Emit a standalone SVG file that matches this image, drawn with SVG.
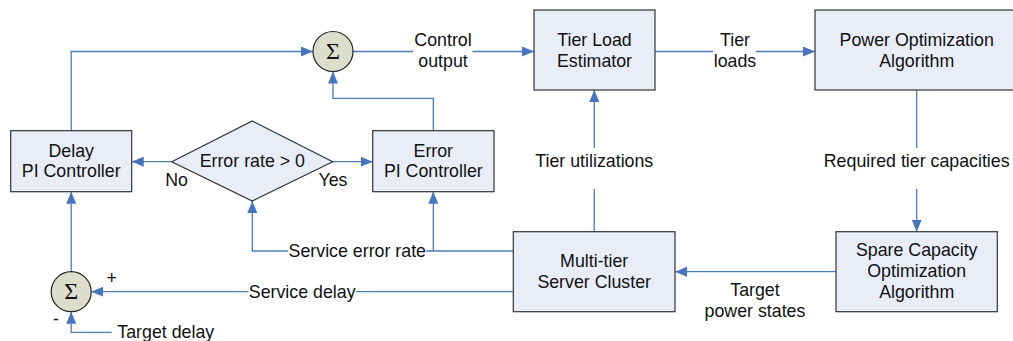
<svg xmlns="http://www.w3.org/2000/svg" width="1013" height="341" viewBox="0 0 1013 341">
  <style>
    .box { fill: #e8edf7; stroke: #333333; stroke-width: 1.2; }
    .sum { fill: #dcdecb; stroke: #222222; stroke-width: 1.2; }
    .wire { fill: none; stroke: #4a7ebb; stroke-width: 1.3; }
    .arr { marker-end: url(#head); }
    text { font-family: "Liberation Sans", Arial, sans-serif; font-size: 17.8px; fill: #111111; }
    .c { text-anchor: middle; }
    .sigma { font-family: "Liberation Serif", "Times New Roman", serif; font-size: 24px; text-anchor: middle; }
    .gap { fill: #ffffff; }
  </style>
  <defs>
    <marker id="head" markerUnits="userSpaceOnUse" markerWidth="12" markerHeight="10" refX="12" refY="5" orient="auto">
      <path d="M0,0 L12,5 L0,10 Z" fill="#4575c0"/>
    </marker>
  </defs>
  <rect width="1013" height="341" fill="#ffffff"/>

  <!-- connectors -->
  <g id="connectors">
    <path class="wire arr" d="M71.2,130.7 V51.5 H313"/>
    <path class="wire arr" d="M353,51.5 H534"/>
    <path class="wire arr" d="M655,51.5 H815"/>
    <path class="wire arr" d="M916.7,90 V231.7"/>
    <path class="wire arr" d="M836,271.7 H675"/>
    <path class="wire arr" d="M594.3,231.7 V90"/>
    <path class="wire arr" d="M433.3,130.7 V98.3 H333 V71.5"/>
    <path class="wire arr" d="M171.7,161.7 H131.7"/>
    <path class="wire arr" d="M332.7,161.7 H372.7"/>
    <path class="wire arr" d="M513.3,251 H252.3 V201"/>
    <path class="wire arr" d="M433.3,251 V191.7"/>
    <path class="wire arr" d="M513.3,291.7 H91.2"/>
    <path class="wire arr" d="M71.2,271.7 V191.7"/>
    <path class="wire arr" d="M111.7,332.3 H71.2 V311.7"/>

    <!-- label backgrounds breaking the wires -->
    <rect class="gap" x="413" y="30" width="59.5" height="42"/>
    <rect class="gap" x="713" y="30" width="43" height="42"/>
    <rect class="gap" x="560" y="148" width="70" height="41"/>
    <rect class="gap" x="880" y="148" width="73" height="41"/>
    <rect class="gap" x="288.3" y="240" width="138" height="22"/>
    <rect class="gap" x="248.3" y="281" width="107.7" height="22"/>

    <text class="c" x="443" y="45.7">Control</text>
    <text class="c" x="443" y="66.7">output</text>
    <text class="c" x="735" y="45.7">Tier</text>
    <text class="c" x="735" y="66.7">loads</text>
    <text class="c" x="594.3" y="166.7">Tier utilizations</text>
    <text class="c" x="916.7" y="166.7">Required tier capacities</text>
    <text class="c" x="755" y="295.5">Target</text>
    <text class="c" x="755" y="316.5">power states</text>
    <text class="c" x="357.3" y="256.5">Service error rate</text>
    <text class="c" x="302.2" y="297.5">Service delay</text>
    <text x="117.3" y="337.5">Target delay</text>
    <text class="c" x="176.5" y="185.7">No</text>
    <text class="c" x="333" y="185.7">Yes</text>
    <text class="c" x="111.7" y="283.5">+</text>
    <text class="c" x="56" y="325">-</text>
  </g>

  <!-- nodes -->
  <g id="sum-top">
    <circle class="sum" cx="333" cy="51.5" r="20"/>
    <text class="sigma" x="333" y="58.5">Σ</text>
  </g>
  <g id="sum-bottom">
    <circle class="sum" cx="71.2" cy="291.7" r="20"/>
    <text class="sigma" x="71.2" y="298.7">Σ</text>
  </g>
  <g id="delay-pi">
    <rect class="box" x="10.7" y="130.7" width="121" height="61"/>
    <text class="c" x="71.2" y="156.7">Delay</text>
    <text class="c" x="71.2" y="177.3">PI Controller</text>
  </g>
  <g id="error-check">
    <polygon class="box" points="171.7,161.7 252.3,121 332.7,161.7 252.3,201"/>
    <text class="c" x="252.3" y="167">Error rate &gt; 0</text>
  </g>
  <g id="error-pi">
    <rect class="box" x="372.7" y="130.7" width="121.3" height="61"/>
    <text class="c" x="433.3" y="156.7">Error</text>
    <text class="c" x="433.3" y="177.3">PI Controller</text>
  </g>
  <g id="tier-load-estimator">
    <rect class="box" x="534" y="10" width="121" height="80"/>
    <text class="c" x="594.5" y="45.7">Tier Load</text>
    <text class="c" x="594.5" y="66.7">Estimator</text>
  </g>
  <g id="power-optimization">
    <rect class="box" x="815" y="10" width="203" height="80"/>
    <text class="c" x="916.7" y="45.7">Power Optimization</text>
    <text class="c" x="916.7" y="66.7">Algorithm</text>
  </g>
  <g id="server-cluster">
    <rect class="box" x="513.3" y="231.7" width="161.7" height="80"/>
    <text class="c" x="594.2" y="266.7">Multi-tier</text>
    <text class="c" x="594.2" y="287.5">Server Cluster</text>
  </g>
  <g id="spare-capacity">
    <rect class="box" x="836" y="231.7" width="161.3" height="80"/>
    <text class="c" x="916.7" y="256">Spare Capacity</text>
    <text class="c" x="916.7" y="277">Optimization</text>
    <text class="c" x="916.7" y="298">Algorithm</text>
  </g>
</svg>
